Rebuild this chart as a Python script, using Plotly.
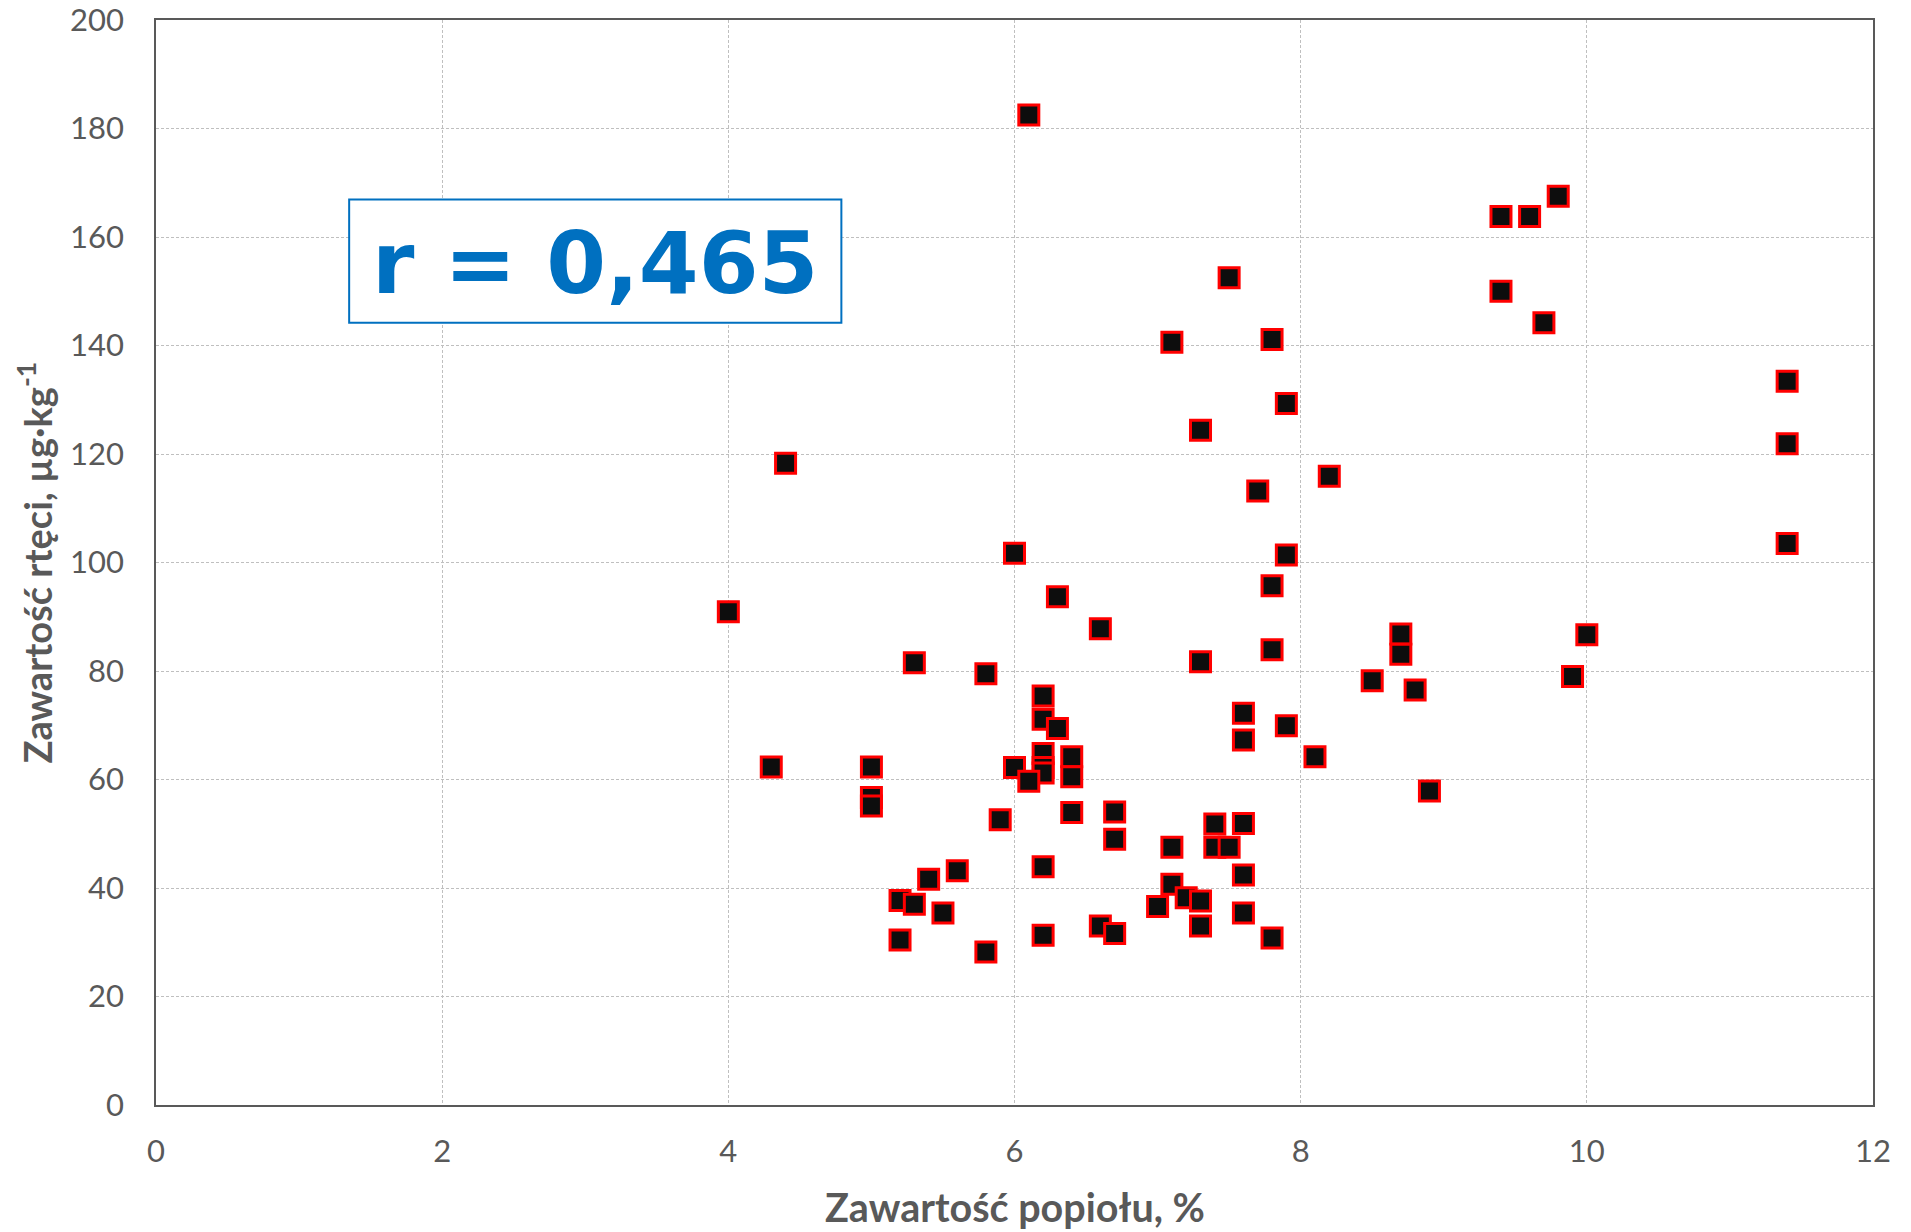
import plotly.graph_objects as go

# Ash content (%) and mercury content (µg·kg-1)
ash = [6.1, 9.8, 9.4, 9.6, 7.5, 9.4, 9.7, 7.1, 7.8, 11.4,
       7.9, 7.3, 11.4, 4.4, 8.2, 7.7, 6.0, 7.9, 11.4, 4.0,
       7.8, 6.3, 6.6, 8.7, 10.0, 8.7, 7.8, 5.3, 7.3, 5.8,
       9.9, 8.5, 8.8, 6.2, 6.2, 6.3, 7.6, 7.9, 7.6, 8.1,
       4.3, 5.0, 6.0, 6.2, 6.2, 6.2, 6.4, 6.4, 6.1, 5.0,
       5.0, 8.9, 5.9, 6.4, 6.7, 7.4, 7.6, 6.7, 7.1, 7.4,
       7.5, 5.6, 6.2, 7.6, 5.4, 5.2, 5.3, 7.1, 7.2, 7.3,
       7.0, 5.5, 7.6, 6.6, 6.7, 7.3, 6.2, 5.2, 7.8, 5.8]
mercury = [182.5, 167.5, 163.8, 163.8, 152.5, 150.0, 144.2, 140.6, 141.1, 133.4,
           129.3, 124.4, 121.9, 118.3, 115.9, 113.2, 101.7, 101.4, 103.5, 90.9,
           95.7, 93.7, 87.8, 86.8, 86.7, 83.1, 83.9, 81.5, 81.7, 79.5,
           79.0, 78.2, 76.5, 75.4, 71.1, 69.4, 72.2, 69.9, 67.3, 64.2,
           62.3, 62.3, 62.2, 64.8, 62.2, 61.2, 64.2, 60.5, 59.7, 56.7,
           55.1, 57.9, 52.6, 53.9, 54.0, 51.8, 51.9, 49.0, 47.5, 47.5,
           47.5, 43.2, 43.9, 42.4, 41.6, 37.7, 37.0, 40.7, 38.2, 37.6,
           36.6, 35.4, 35.4, 33.0, 31.6, 33.0, 31.3, 30.4, 30.8, 28.2]

x_ticks = [0, 2, 4, 6, 8, 10, 12]
y_ticks = [0, 20, 40, 60, 80, 100, 120, 140, 160, 180, 200]
x_title = "Zawartość popiołu, %"
y_title = "Zawartość rtęci, µg·kg<sup>-1</sup>"
r_label = "r = 0,465"

GRAY = "#595959"

fig = go.Figure()
fig.add_trace(go.Scatter(
    x=ash, y=mercury, mode="markers",
    marker=dict(symbol="square", size=20, color="#0D0D0D",
                line=dict(color="#FF0000", width=3)),
    showlegend=False, hoverinfo="x+y",
))

axis_common = dict(
    showline=True, linecolor=GRAY, linewidth=1.5, mirror=True,
    showgrid=True, gridcolor="#BFBFBF", gridwidth=1, griddash="3px,2px",
    zeroline=False, ticks="", ticklabeloverflow="allow", automargin=False,
    tickfont=dict(family="Lato", size=31, color=GRAY),
)

fig.update_xaxes(range=[0, 12], tickvals=x_ticks, ticklabelstandoff=18, **axis_common)
fig.update_yaxes(range=[0, 200], tickvals=y_ticks, ticklabelstandoff=24, **axis_common)

# axis titles
fig.add_annotation(text=x_title, xref="paper", yref="paper", x=0.5, y=-0.094,
                   xanchor="center", yanchor="middle", showarrow=False,
                   font=dict(family="Lato", size=39.5, color=GRAY, weight="bold"))
fig.add_annotation(text=y_title, xref="paper", yref="paper", x=-0.0705, y=0.5,
                   xanchor="center", yanchor="middle", showarrow=False, textangle=-90,
                   font=dict(family="Lato", size=38, color=GRAY, weight="bold"))

# correlation box
fig.add_shape(type="rect", xref="x", yref="y", x0=1.35, x1=4.79, y0=144.2, y1=166.9,
              line=dict(color="#0070C0", width=2), fillcolor="white", layer="above")
fig.add_annotation(text=r_label, xref="x", yref="y", x=3.07, y=155.3,
                   xanchor="center", yanchor="middle", showarrow=False,
                   font=dict(family="DejaVu Sans", size=86, color="#0070C0", weight="bold"))

fig.update_layout(
    width=1911, height=1232, autosize=False,
    margin=dict(l=156, r=38, t=20, b=127),
    paper_bgcolor="white", plot_bgcolor="white",
)

fig.write_html("out.html", config={"displayModeBar": False},
               post_script="document.body.style.margin='0';document.body.style.overflow='hidden';")
